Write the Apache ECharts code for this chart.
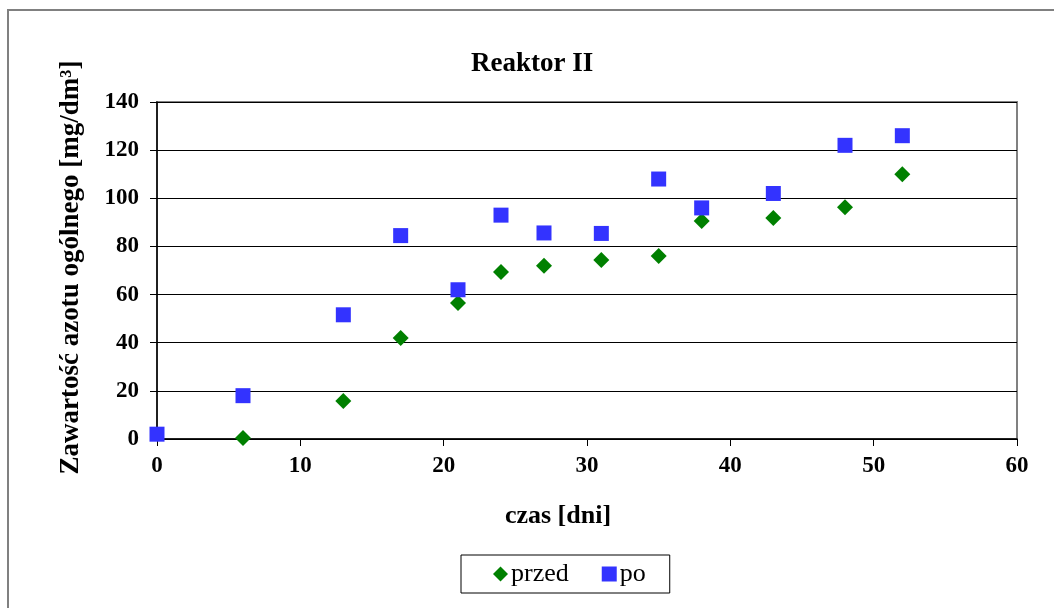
<!DOCTYPE html>
<html>
<head>
<meta charset="utf-8">
<script src="https://cdn.jsdelivr.net/npm/echarts@6/dist/echarts.min.js"></script>
<style>
html,body{margin:0;padding:0;background:#fff;}
#main{width:1054px;height:608px;}
</style>
</head>
<body>
<div id="main"></div>
<script>
const chartTitle = 'Reaktor II';
const xName = 'czas [dni]';
const yName = 'Zawartość azotu ogólnego [mg/dm³]';
const przedDays = [6, 13, 17, 21, 24, 27, 31, 35, 38, 43, 48, 52];
const przedValues = [0.4, 15.8, 42, 56.5, 69.4, 72, 74.4, 76, 90.6, 91.8, 96.3, 110];
const poDays = [0, 6, 13, 17, 21, 24, 27, 31, 35, 38, 43, 48, 52];
const poValues = [2, 18, 51.6, 84.5, 62, 93, 85.6, 85.4, 108, 96, 102, 122, 126];
const seriesNames = ['przed', 'po'];

const FONT = "'Liberation Serif', 'Times New Roman', serif";
const chart = echarts.init(document.getElementById('main'), null, {renderer: 'canvas'});
chart.setOption({
  backgroundColor: '#fff',
  animation: false,
  graphic: [{
    type: 'rect', shape: {x: 8, y: 10, width: 1060, height: 620},
    style: {fill: 'none', stroke: '#808080', lineWidth: 2}, silent: true, z: -1
  }],
  title: {
    text: chartTitle, left: 466, top: 46,
    textStyle: {fontFamily: FONT, fontWeight: 'bold', fontSize: 27, color: '#000'}
  },
  legend: {
    left: 461, top: 555,
    padding: [6, 24, 6, 32],
    itemGap: 33, itemWidth: 15, itemHeight: 15,
    borderColor: '#000', borderWidth: 1,
    textStyle: {fontFamily: FONT, fontSize: 26, color: '#000', padding: [0, 0, 0, -2]},
    data: [{name: seriesNames[0], icon: 'diamond'}, {name: seriesNames[1], icon: 'rect'}]
  },
  grid: {
    left: 157, right: 37, top: 102, bottom: 169,
    show: true, borderColor: '#808080', borderWidth: 2, backgroundColor: '#fff'
  },
  xAxis: {
    type: 'value', min: 0, max: 60, interval: 10,
    name: xName, nameLocation: 'middle', nameGap: 64,
    nameTextStyle: {fontFamily: FONT, fontWeight: 'bold', fontSize: 26, color: '#000', padding: [0, 58, 0, 0]},
    axisLine: {show: true, onZero: false, lineStyle: {color: '#000', width: 1.5}},
    axisTick: {show: true, inside: false, length: 7, lineStyle: {color: '#000'}},
    axisLabel: {margin: 16, fontFamily: FONT, fontWeight: 'bold', fontSize: 23, color: '#000'},
    splitLine: {show: false}
  },
  yAxis: {
    type: 'value', min: 0, max: 140, interval: 20,
    name: yName, nameLocation: 'middle', nameGap: 72, nameRotate: 90,
    nameTextStyle: {fontFamily: FONT, fontWeight: 'bold', fontSize: 27, color: '#000', padding: [0, 0, 0, 6]},
    axisLine: {show: true, onZero: false, lineStyle: {color: '#000', width: 1.5}},
    axisTick: {show: true, inside: false, length: 7, lineStyle: {color: '#000'}},
    axisLabel: {margin: 18, fontFamily: FONT, fontWeight: 'bold', fontSize: 23, color: '#000'},
    splitLine: {show: true, lineStyle: {color: '#000', width: 1}}
  },
  series: [
    {
      name: seriesNames[0], type: 'scatter', symbol: 'diamond', symbolSize: 16,
      itemStyle: {color: '#008000', opacity: 1},
      data: przedDays.map((d, i) => [d, przedValues[i]]), z: 3
    },
    {
      name: seriesNames[1], type: 'scatter', symbol: 'rect', symbolSize: 15,
      itemStyle: {color: '#3333FF', opacity: 1},
      data: poDays.map((d, i) => [d, poValues[i]]), z: 4
    }
  ]
});
</script>
</body>
</html>
